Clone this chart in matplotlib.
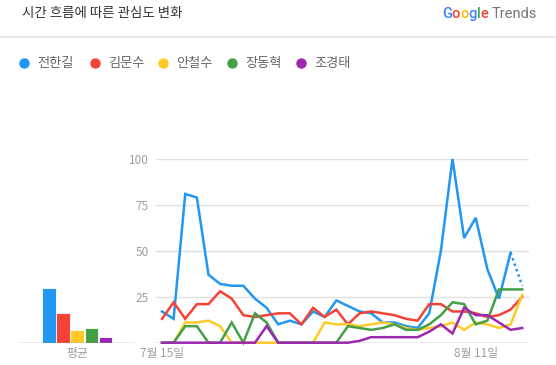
import matplotlib
matplotlib.use("Agg")
import matplotlib.pyplot as plt
from matplotlib.lines import Line2D

plt.rcParams['font.family'] = ['Noto Sans CJK KR', 'DejaVu Sans']

# ---- data ----
dates = [f"7월 {d}일" for d in range(15, 32)] + [f"8월 {d}일" for d in range(1, 16)]
tick_dates = ["7월 15일", "8월 11일"]
series_names = ["전한길", "김문수", "안철수", "장동혁", "조경태"]
blue = [17, 13, 81, 79, 37, 32, 31, 31, 24, 19, 10, 12, 10, 17, 14, 23,
        20, 17, 16, 11, 11, 9, 8, 16, 50, 100, 57, 68, 40, 24, 49, 31]
red = [13, 22, 13, 21, 21, 28, 24, 15, 14, 15, 16, 16, 10, 19, 14, 18,
       10, 16, 17, 16, 15, 13, 12, 21, 21, 17, 17, 16, 14, 15, 18, 25]
yellow = [0, 0, 11, 11, 12, 9, 0, 0, 0, 0, 0, 0, 0, 0, 11, 10,
          10, 9, 10, 11, 10, 8, 7, 8, 9, 11, 7, 11, 10, 8, 10, 26]
green = [0, 0, 9, 9, 0, 0, 11, 0, 16, 11, 0, 0, 0, 0, 0, 0,
         9, 8, 7, 8, 10, 7, 7, 10, 15, 22, 21, 10, 12, 29, 29, 29]
purple = [0, 0, 0, 0, 0, 0, 0, 0, 0, 9, 0, 0, 0, 0, 0, 0,
          0, 1, 3, 3, 3, 3, 3, 6, 10, 5, 19, 15, 15, 11, 7, 8]
averages = [30, 16, 7, 8, 3]
yticks = [25, 50, 75, 100]

colors = ["#2196f3", "#f44336", "#ffca28", "#43a047", "#9c27b0"]
all_series = [blue, red, yellow, green, purple]

W, H = 556, 365
fig = plt.figure(figsize=(W / 100, H / 100), dpi=100)

def fx(px):
    return px / W

def fy(py):
    return 1 - py / H

# ---- header ----
fig.text(fx(22), fy(13), "시간 흐름에 따른 관심도 변화", fontsize=9.7,
         color="#333333", va="center", ha="left")
fig.add_artist(Line2D([0, 1], [fy(37), fy(37)], color="#e3e3e3", lw=1.2,
                      transform=fig.transFigure))

# Google Trends logo
renderer = fig.canvas.get_renderer()
gx = fx(442)
letters = [("G", "#4285f4"), ("o", "#ea4335"), ("o", "#fbbc05"),
           ("g", "#4285f4"), ("l", "#34a853"), ("e", "#ea4335")]
for ch, c in letters:
    t = fig.text(gx, fy(14), ch, fontsize=10.5, color=c, va="center",
                 ha="left", family="Roboto", fontweight="medium")
    bb = t.get_window_extent(renderer)
    gx += bb.width / W
fig.text(gx + fx(3), fy(14), "Trends", fontsize=10.5, color="#777777",
         va="center", ha="left", family="Roboto")

# legend
leg_circle_x = [24, 95, 163, 232, 301]
for name, c, lx in zip(series_names, colors, leg_circle_x):
    fig.add_artist(Line2D([fx(lx)], [fy(63)], marker="o", markersize=6.5,
                          color=c, transform=fig.transFigure, lw=0))
    fig.text(fx(lx + 13), fy(64), name, fontsize=9.5, color="#666666",
             va="center", ha="left")

# ---- average bar axes ----
left_px, right_px = 155.7, 529
top_px, bot_px = 159, 342.7
b_left, b_right = 19.3, 135
bstep = 14.2
bc0 = 48.8
bax = fig.add_axes([fx(b_left), fy(bot_px), (b_right - b_left) / W,
                    (bot_px - top_px) / H])
bax.patch.set_visible(False)
bax.set_xlim((b_left - bc0) / bstep, (b_right - bc0) / bstep)
bax.set_ylim(0, 100)
bax.bar(range(len(averages)), averages, width=0.96, color=colors,
        edgecolor="white", linewidth=0.6, zorder=2)
bax.axhline(0, color="#9e9e9e", lw=1, zorder=3)
for sp in bax.spines.values():
    sp.set_visible(False)
bax.set_yticks([])
bax.set_xticks([2])
bax.set_xticklabels(["평균"])
bax.tick_params(axis="x", length=0, labelsize=8.5, labelcolor="#9e9e9e", pad=3)

# ---- main axes ----
ax = fig.add_axes([fx(left_px), fy(bot_px), (right_px - left_px) / W,
                   (bot_px - top_px) / H])
ax.patch.set_visible(False)
x = list(range(len(dates)))
step = 11.62
x0 = 162
ax.set_xlim((left_px - x0) / step, (right_px - x0) / step)
ax.set_ylim(0, 100)

for v in yticks:
    ax.axhline(v, color="#e0e0e0", lw=1, zorder=0)
ax.axhline(0, color="#9e9e9e", lw=1, zorder=1)

for s, c in zip(all_series, colors):
    if s is blue:
        ax.plot(x[:-1], s[:-1], color=c, lw=1.8, zorder=3,
                solid_joinstyle="miter", clip_on=False)
        ax.plot(x[-2:], s[-2:], color=c, lw=1.8, ls=(0, (1, 1.3)), zorder=3,
                clip_on=False)
    else:
        ax.plot(x, s, color=c, lw=1.8, zorder=3, solid_joinstyle="miter",
                clip_on=False)

for sp in ax.spines.values():
    sp.set_visible(False)
ax.set_yticks(yticks)
ax.set_yticklabels([str(v) for v in yticks])
ax.set_xticks([dates.index(d) for d in tick_dates])
ax.set_xticklabels(tick_dates)
ax.tick_params(axis="both", length=0, labelsize=8.5, labelcolor="#9e9e9e")
ax.tick_params(axis="y", pad=5)
ax.tick_params(axis="x", pad=3)

fig.savefig("out.png", dpi=100)
